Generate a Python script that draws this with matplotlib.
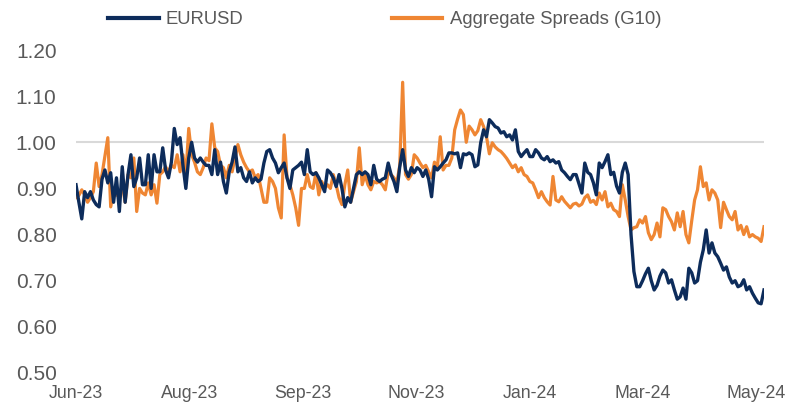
import numpy as np
import matplotlib
matplotlib.use("Agg")
import matplotlib.pyplot as plt

plt.rcParams['font.family'] = ['Liberation Sans', 'DejaVu Sans']

# ---- data ----
eurusd = [
    # Jun-23 .. early Aug-23
    0.908, 0.87, 0.834, 0.893, 0.88, 0.893, 0.875, 0.865, 0.86, 0.92, 0.94, 0.912, 0.934, 0.87, 0.923, 0.85,
    0.947, 0.87, 0.93, 0.973, 0.904, 0.923, 0.966, 0.908, 0.908, 0.973, 0.90, 0.973, 0.936, 0.936, 0.988, 0.94,
    # Aug-23 .. Sep-23
    0.923, 0.957, 1.03, 0.995, 1.01, 0.95, 0.90, 0.966, 1.00, 0.966, 0.957, 0.966, 0.957, 0.95, 0.95, 0.93, 0.984,
    0.93, 0.957, 0.915, 0.89, 0.936, 0.957, 0.99, 0.936, 0.945, 0.923, 0.915, 0.936, 0.912, 0.923, 0.915, 0.92, 0.955,
    # Sep-23 .. Nov-23
    0.98, 0.984, 0.966, 0.955, 0.934, 0.945, 0.955, 0.923, 0.90, 0.94, 0.945, 0.95, 0.957, 0.93, 0.984, 0.936, 0.93,
    0.934, 0.923, 0.908, 0.893, 0.94, 0.934, 0.923, 0.904, 0.93, 0.90, 0.86, 0.88, 0.87, 0.90, 0.93, 0.936, 0.93,
    # Nov-23 .. Jan-24
    0.936, 0.93, 0.908, 0.95, 0.92, 0.915, 0.92, 0.923, 0.955, 0.93, 0.915, 0.893, 0.947, 0.984, 0.94, 0.926, 0.945,
    0.934, 0.945, 0.94, 0.926, 0.94, 0.92, 0.882, 0.947, 0.94, 0.947, 0.955, 0.962, 0.977, 0.977, 0.975, 0.977, 0.945,
    # Jan-24 .. Mar-24
    0.975, 0.973, 0.977, 0.973, 0.947, 0.951, 0.999, 1.027, 1.012, 1.049, 1.042, 1.034, 1.031, 1.02, 1.023, 1.012,
    1.016, 1.005, 1.027, 0.98, 0.969, 0.977, 0.984, 0.969, 0.969, 0.984, 0.977, 0.966, 0.962, 0.969, 0.958, 0.962,
    0.955, 0.958, 0.94,
    # Mar-24 .. Apr-24
    0.934, 0.926, 0.919, 0.93, 0.93, 0.91, 0.89, 0.955, 0.935, 0.93, 0.912, 0.886, 0.955, 0.945, 0.958, 0.973, 0.93,
    0.935, 0.905, 0.89, 0.935, 0.955, 0.93, 0.80, 0.72, 0.687, 0.687, 0.70, 0.715, 0.727, 0.70, 0.68, 0.69, 0.71, 0.723,
    # Apr-24 .. May-24
    0.717, 0.695, 0.702, 0.68, 0.66, 0.665, 0.684, 0.66, 0.727, 0.717, 0.695, 0.70, 0.74, 0.767, 0.81, 0.76, 0.782,
    0.76, 0.752, 0.738, 0.723, 0.73, 0.708, 0.695, 0.70, 0.687, 0.69, 0.702, 0.68, 0.687, 0.673, 0.662, 0.652, 0.65, 0.68,
]

spreads = [
    # Jun-23 .. early Aug-23
    0.88, 0.885, 0.897, 0.886, 0.87, 0.88, 0.893, 0.955, 0.904, 0.93, 0.97, 1.01, 0.86, 0.893, 0.886, 0.882,
    0.908, 0.87, 0.93, 0.923, 0.966, 0.85, 0.90, 0.89, 0.886, 0.912, 0.886, 0.908, 0.868, 0.93, 0.936, 0.947,
    # Aug-23 .. Sep-23
    0.936, 0.95, 0.945, 0.973, 0.936, 0.973, 0.93, 1.03, 0.973, 0.957, 0.936, 0.93, 0.945, 0.966, 0.96, 1.04, 0.988,
    0.98, 0.95, 0.945, 0.923, 0.95, 0.936, 0.966, 0.995, 0.973, 0.957, 0.945, 0.936, 0.94, 0.923, 0.93, 0.90, 0.87,
    # Sep-23 .. Nov-23
    0.87, 0.923, 0.915, 0.90, 0.858, 0.836, 1.016, 0.923, 0.908, 0.886, 0.858, 0.82, 0.90, 0.90, 0.93, 0.904, 0.90,
    0.934, 0.886, 0.915, 0.90, 0.908, 0.90, 0.93, 0.908, 0.88, 0.865, 0.908, 0.94, 0.87, 0.893, 0.915, 0.988, 0.908,
    # Nov-23 .. Jan-24
    0.93, 0.908, 0.897, 0.915, 0.912, 0.915, 0.908, 0.897, 0.936, 0.93, 0.923, 0.912, 0.95, 1.13, 0.93, 0.92, 0.93,
    0.973, 0.966, 0.955, 0.945, 0.95, 0.936, 0.923, 0.957, 0.945, 1.012, 0.94, 0.95, 0.95, 0.966, 1.027, 1.05, 1.07,
    # Jan-24 .. Mar-24
    1.06, 1.00, 1.035, 1.027, 1.016, 1.025, 1.049, 1.034, 1.012, 0.975, 0.999, 0.99, 0.984, 0.98, 0.973, 0.965,
    0.955, 0.945, 0.951, 0.936, 0.945, 0.93, 0.926, 0.915, 0.912, 0.897, 0.88, 0.893, 0.88, 0.871, 0.864, 0.926,
    0.875, 0.871, 0.882,
    # Mar-24 .. Apr-24
    0.872, 0.865, 0.858, 0.866, 0.868, 0.862, 0.866, 0.88, 0.886, 0.87, 0.874, 0.865, 0.89, 0.875, 0.893, 0.86, 0.868,
    0.854, 0.85, 0.839, 0.908, 0.875, 0.839, 0.81, 0.815, 0.817, 0.832, 0.825, 0.839, 0.804, 0.789, 0.80, 0.825, 0.795, 0.858,
    # Apr-24 .. May-24
    0.854, 0.839, 0.828, 0.81, 0.847, 0.817, 0.85, 0.80, 0.782, 0.83, 0.875, 0.897, 0.947, 0.904, 0.912, 0.875, 0.897,
    0.89, 0.875, 0.815, 0.87, 0.854, 0.839, 0.832, 0.85, 0.81, 0.82, 0.80, 0.817, 0.795, 0.80, 0.795, 0.792, 0.785, 0.817,
]

tick_labels = ["Jun-23", "Aug-23", "Sep-23", "Nov-23", "Jan-24", "Mar-24", "May-24"]
y_ticks = [0.50, 0.60, 0.70, 0.80, 0.90, 1.00, 1.10, 1.20]

navy = "#0D2C5B"
orange = "#EF8633"
grey_text = "#595959"

n = len(eurusd)
x = np.arange(n)

fig = plt.figure(figsize=(7.87, 4.04), dpi=100)
ax = fig.add_axes([76 / 787, 1 - 373 / 404, 688 / 787, 323 / 404])

ax.axhline(1.0, color="#D9D9D9", lw=1.5, zorder=1)
l1, = ax.plot(x, eurusd, color=navy, lw=2.4, zorder=3, solid_joinstyle="round", label="EURUSD")
l2, = ax.plot(x, spreads, color=orange, lw=2.3, zorder=2, solid_joinstyle="round",
              label="Aggregate Spreads (G10)")

ax.set_xlim(0, n - 1)
ax.set_ylim(0.5, 1.2)
ax.set_yticks(y_ticks)
ax.set_yticklabels([f"{v:.2f}" for v in y_ticks])

step = (n - 1) * 113.4 / 688
ax.set_xticks([i * step for i in range(len(tick_labels))])
ax.set_xticklabels(tick_labels)

ax.tick_params(axis="y", length=0, pad=14, labelsize=15, labelcolor=grey_text)
ax.tick_params(axis="x", length=0, pad=9, labelsize=12.8, labelcolor=grey_text)
for s in ax.spines.values():
    s.set_visible(False)

leg = fig.legend(handles=[l1, l2], loc="center", bbox_to_anchor=(384.5 / 787, 1 - 20 / 404),
                 ncol=2, frameon=False, fontsize=13.3, handlelength=2.75, handletextpad=0.4,
                 columnspacing=8.0, borderpad=0)
for t in leg.get_texts():
    t.set_color(grey_text)
for h in leg.legend_handles:
    h.set_linewidth(3)

fig.savefig("out.png", dpi=100)
